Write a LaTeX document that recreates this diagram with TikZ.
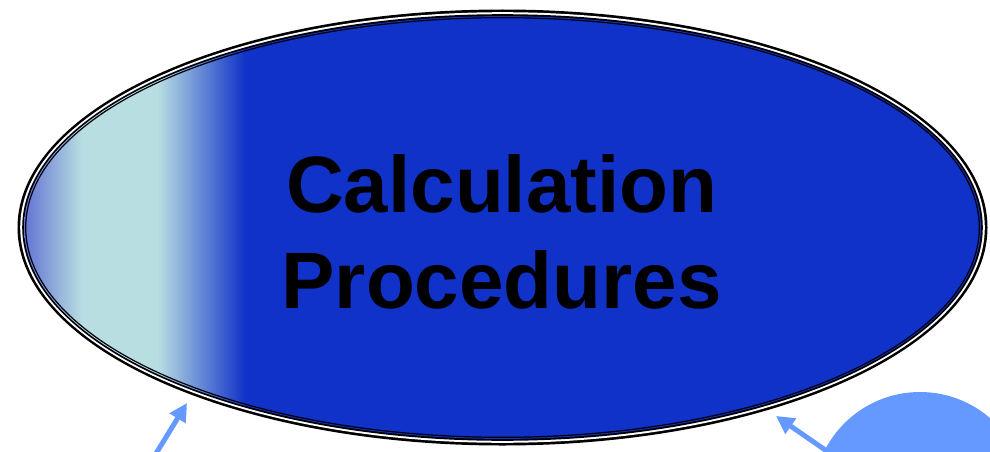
\documentclass[tikz,border=0pt]{standalone}
\usepackage{fontspec}
\setmainfont{Liberation Sans}
\usetikzlibrary{arrows.meta}
\definecolor{ellblue}{RGB}{17,50,200}
\definecolor{edgeblue}{RGB}{92,108,210}
\definecolor{paleblue}{RGB}{184,222,226}
\definecolor{lightarrow}{RGB}{102,153,255}
\tikzset{
  connector/.style={draw=lightarrow, line width=5pt, -{Triangle[length=18pt,width=18pt]}},
  labeltext/.style={font=\bfseries\fontsize{80}{95}\selectfont, text=black, anchor=base, inner sep=0pt}
}
\begin{document}
\begin{tikzpicture}[x=1pt,y=-1pt]
\useasboundingbox (0,0) rectangle (990,452);
\clip (0,0) rectangle (990,452);
\fill[white] (0,0) rectangle (990,452);
% outline rings
\fill[black] (502.5,227.5) ellipse [x radius=485, y radius=218];
\fill[white] (502.5,227.5) ellipse [x radius=482.3, y radius=215.3];
\fill[black] (502.5,227.5) ellipse [x radius=480.3, y radius=213.3];
\begin{scope}
  \clip (502.5,227.5) ellipse [x radius=478.4, y radius=211.4];
  \fill[ellblue] (0,0) rectangle (990,452);
  \shade[left color=edgeblue, right color=paleblue] (20,0) rectangle (82,452);
  \fill[paleblue] (81.5,0) rectangle (158,452);
  \shade[left color=paleblue, right color=ellblue] (157.5,0) rectangle (245,452);
\end{scope}
\draw[black, line width=1.2pt] (502.5,227.5) ellipse [x radius=476.8, y radius=209.8];
% circle bottom right
\fill[lightarrow] (920,499) circle [radius=107];
% text
\node[labeltext] (line1) at (501.7,212.7) {Calculation};
\node[labeltext] (line2) at (501.7,308.2) {Procedures};
% arrows
\coordinate (lt) at (152,460);
\coordinate (lh) at (187,403);
\coordinate (rt) at (834,456);
\coordinate (rh) at (776,416);
\draw[connector] (lt) -- (lh);
\draw[connector] (rt) -- (rh);
\end{tikzpicture}
\end{document}
